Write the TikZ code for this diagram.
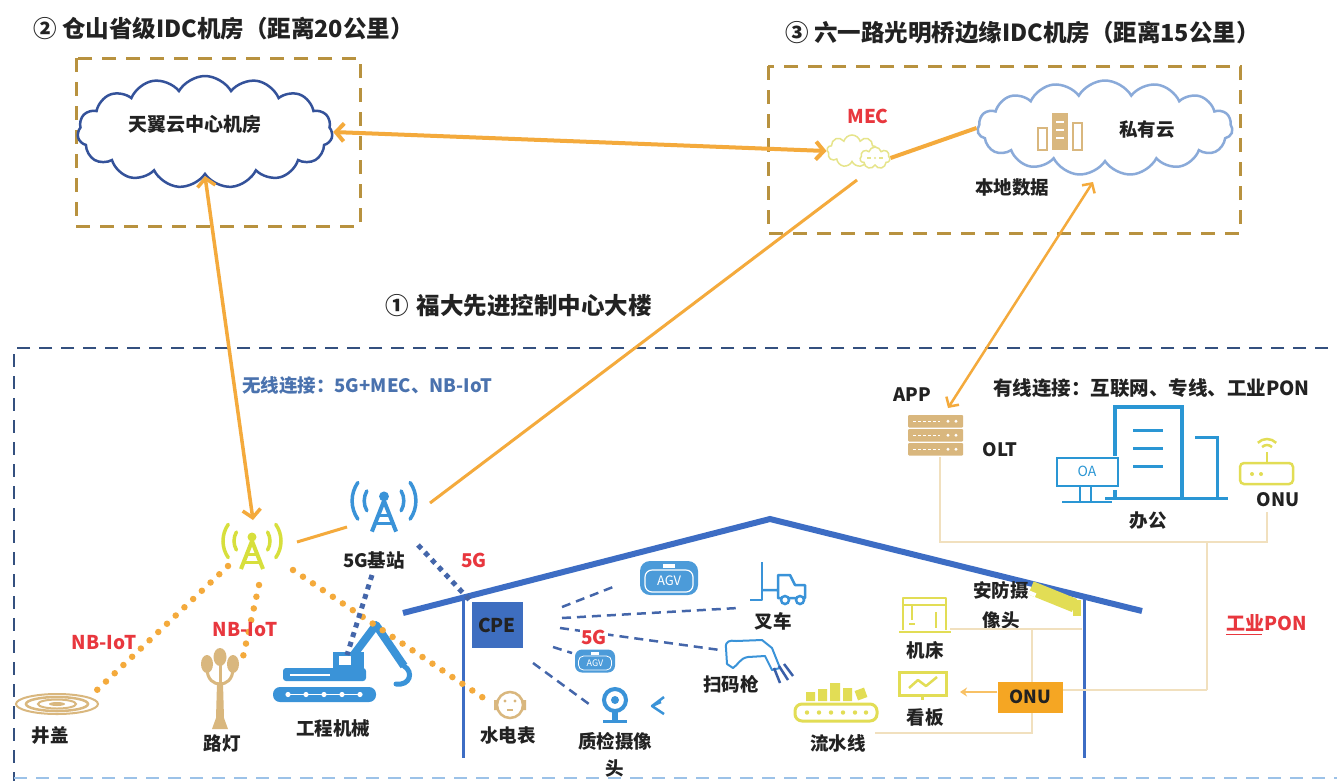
\documentclass[tikz,border=0pt]{standalone}
\usepackage{fontspec}
\setmainfont{Noto Sans CJK SC}
\usetikzlibrary{arrows.meta,shapes.symbols,calc}

\definecolor{linkorange}{HTML}{F4AA3C}
\definecolor{idcbrown}{HTML}{B8923F}
\definecolor{campusblue}{HTML}{34507F}
\definecolor{campuslight}{HTML}{9CC2E8}
\definecolor{cloudnavy}{HTML}{34529A}
\definecolor{cloudsky}{HTML}{8AAAD9}
\definecolor{iconblue}{HTML}{3A93D8}
\definecolor{officeblue}{HTML}{2A96D4}
\definecolor{roofblue}{HTML}{3D6DC4}
\definecolor{icontan}{HTML}{D9B77E}
\definecolor{iconyellow}{HTML}{E2DD55}
\definecolor{nbgreen}{HTML}{D7DF3C}
\definecolor{mecyellow}{HTML}{E6E48A}
\definecolor{alertred}{HTML}{E8373E}
\definecolor{ponline}{HTML}{F1E0BE}
\definecolor{cpeblue}{HTML}{3E6EC0}
\definecolor{onuorange}{HTML}{F5A623}
\definecolor{textdark}{HTML}{222222}
\definecolor{wirelessblue}{HTML}{4A72AE}
\definecolor{dashblue}{HTML}{4466AA}
\definecolor{agvblue}{HTML}{4C9BD9}
\definecolor{scannerdark}{HTML}{3A5FA8}

\tikzset{
  titletext/.style={anchor=west, inner sep=0, text=textdark, font=\bfseries\fontsize{23.5}{27}\selectfont},
  lbl/.style={inner sep=0, text=textdark, font=\bfseries\fontsize{18.5}{21}\selectfont},
  redlbl/.style={lbl, text=alertred, font=\bfseries\fontsize{19}{21}\selectfont},
  idcbox/.style={draw=idcbrown, line width=3, dash pattern=on 14pt off 10pt},
  campusline/.style={line width=2.5, dash pattern=on 13pt off 9pt},
  link/.style={draw=linkorange, line width=4},
  biarrow/.style={link, {Straight Barb[length=8pt,width=18pt]}-{Straight Barb[length=8pt,width=18pt]}},
  nbdots/.style={draw=linkorange, line width=6.5, dash pattern=on 0pt off 12pt, line cap=round},
  fivegdots/.style={draw=dashblue, line width=5, dash pattern=on 5pt off 5pt},
  cpedash/.style={draw=dashblue, line width=2.5, dash pattern=on 9pt off 6pt},
  ponwire/.style={draw=ponline, line width=2},
  tower/.pic={
    \fill (0,-16) circle (4.5);
    \draw[line width=4, line join=round] (-11,16) -- (0,-12) -- (11,16);
    \draw[line width=3] (-6,1) -- (6,1) (-8.5,9) -- (8.5,9);
    \draw[line width=3.5, line cap=round]
      ([shift={(150:18)}]0,-12) arc (150:210:18)
      ([shift={(30:18)}]0,-12) arc (30:-30:18)
      ([shift={(145:29)}]0,-12) arc (145:215:29)
      ([shift={(35:29)}]0,-12) arc (35:-35:29);
  },
}

\begin{document}
\begin{tikzpicture}[x=1pt,y=-1pt]
\useasboundingbox (0,0) rectangle (1337,780);
\fill[white] (0,0) rectangle (1337,780);

% ---------- titles ----------
\node[titletext] (title2) at (33,29) {② 仓山省级IDC机房（距离20公里）};
\node[titletext] (title3) at (785,33) {③ 六一路光明桥边缘IDC机房（距离15公里）};
\node[titletext] (title1) at (385,306) {①\hspace{8pt}福大先进控制中心大楼};

% ---------- IDC rooms ----------
\draw[idcbox] (76,58) rectangle (360,226);
\draw[idcbox] (768,66) rectangle (1240,233);

\node[cloud, cloud puffs=15, cloud puff arc=120, draw=cloudnavy, line width=2.5,
      minimum width=255, minimum height=112, inner sep=0] (tycloud) at (205,132) {};
\node[lbl, font=\bfseries\fontsize{19}{21}\selectfont] (tytext) at (195,124) {天翼云中心机房};

\node[cloud, cloud puffs=15, cloud puff arc=120, draw=cloudsky, line width=2.5,
      minimum width=255, minimum height=95, inner sep=0] (pvcloud) at (1105,128) {};
% local data servers
\draw[icontan, line width=1.5] (1038,128) rectangle (1047,150) (1073,123) rectangle (1082,150);
\fill[icontan] (1052,113) rectangle (1068,150);
\draw[white, line width=1.5] (1056,122) -- (1064,122) (1056,130) -- (1064,130) (1056,138) -- (1064,138);
\node[lbl] (pvtext) at (1147,130) {私有云};
\node[lbl] (localdata) at (1012,188) {本地数据};

% MEC
\node[redlbl] (meclabel) at (868,116) {MEC};
\node[cloud, cloud puffs=9, draw=mecyellow, line width=1.5, minimum width=50, minimum height=32, inner sep=0] (mec) at (852,151) {};
\node[cloud, cloud puffs=7, draw=mecyellow, fill=white, line width=1.5, minimum width=30, minimum height=22, inner sep=0] (mecsub) at (875,158) {};
\draw[mecyellow, line width=1.2] (867,158) -- (871,158) (879,158) -- (883,158);
\fill[mecyellow] (875,158) circle (1.2);

% ---------- campus ----------
\draw[campusline, draw=campusblue] (1350,348) -- (14,348) -- (14,790);
\draw[campusline, draw=campuslight] (14,778) -- (1350,778);

\node[anchor=west, inner sep=0, text=wirelessblue, font=\bfseries\fontsize{18.5}{21}\selectfont] (wireless) at (242,386) {无线连接：5G+MEC、NB-IoT};
\node[anchor=west, inner sep=0, text=textdark, font=\bfseries\fontsize{19.5}{22}\selectfont] (wired) at (993,388) {有线连接：互联网、专线、工业PON};

% towers
\pic[color=nbgreen] at (252,553) {tower};
\pic[color=iconblue, scale=1.1] at (384,514) {tower};
\node[lbl] (gblabel) at (374,560) {5G基站};
\node[redlbl] (fiveg1) at (474,560) {5G};

\coordinate (nbtop) at (253,520);
\coordinate (nbright) at (297,542);
\coordinate (gbleft) at (347,527);
\coordinate (gbtop) at (430,503);
\coordinate (mecfoot) at (857,180);
\coordinate (pvfoot) at (1093,182);
\coordinate (appin) at (948,408);

% house
\draw[roofblue, line width=6, line join=miter] (403,613) -- (770,519) -- (1142,611);
\draw[roofblue, line width=3] (463,598) -- (463,758) (1084,596) -- (1084,758);

% excavator
\fill[iconblue, rounded corners=7] (273,687) rectangle (376,702);
\draw[white, line width=1] (288,694.5) -- (360,694.5);
\foreach \xx in {288,306,324,342,360} \fill[white] (\xx,694.5) circle (2.6);
\fill[iconblue, rounded corners=3] (283,668) rectangle (366,681);
\draw[white, line width=1.2] (290,675) -- (330,675);
\fill[iconblue] (333,652) rectangle (364,670);
\fill[white] (339,656) rectangle (351,665);
\draw[iconblue, line width=8, line join=round] (352,657) -- (376,625) -- (404,666);
\draw[iconblue, line width=5, line cap=round] (404,666) .. controls (414,672) and (410,686) .. (396,684);
\node[lbl] (excavator) at (333,728) {工程机械};

% street lamp
\fill[icontan] (217,683) -- (223,683) -- (224,718) -- (228,729) -- (212,729) -- (216,718) -- cycle;
\draw[icontan, line width=3] (220,662) -- (220,686);
\draw[icontan, line width=3] (207,668) .. controls (207,680) and (214,684) .. (220,684);
\draw[icontan, line width=3] (233,668) .. controls (233,680) and (226,684) .. (220,684);
\fill[icontan] (207,664) ellipse (6 and 9) (220,657) ellipse (6.5 and 9) (233,664) ellipse (6 and 9);
\node[lbl] (lamp) at (222,743) {路灯};

% manhole cover
\draw[icontan, line width=2] (57,704) ellipse (41 and 10);
\draw[icontan, line width=2.5] (57,704) ellipse (31 and 7);
\draw[icontan, line width=2] (57,704) ellipse (19 and 4.5);
\fill[icontan] (57,704) ellipse (8 and 2);
\node[lbl] (manhole) at (50,735) {井盖};

% meter
\draw[icontan, line width=2.5] (510,705) circle (13);
\fill[icontan] (494,700) rectangle (497,710) (523,700) rectangle (526,710);
\fill[icontan] (505,701) circle (1.6) (515,701) circle (1.6);
\draw[icontan, line width=1.5] (507,710) -- (513,710);
\node[lbl] (meter) at (508,735) {水电表};

\coordinate (nbleft) at (228,566);
\coordinate (mhtop) at (97,690);
\coordinate (nbbot) at (259,585);
\coordinate (lamptop) at (243,657);
\coordinate (nbdiag) at (293,570);
\coordinate (metertop) at (491,703);
\coordinate (gbbot) at (372,575);
\coordinate (excab) at (347,655);
\coordinate (gbdiag) at (418,545);

% wireless links
\draw[biarrow] (tycloud.east) -- (mec.west);
\draw[link] (mecsub.east) -- (pvcloud.west);
\draw[biarrow, line width=3.5] (tycloud.south) -- (nbtop);
\draw[link, line width=3] (gbtop) -- (mecfoot);
\draw[link, line width=3] (nbright) -- (gbleft);
\draw[link, line width=2.5, {Straight Barb[length=7pt,width=15pt]}-{Straight Barb[length=7pt,width=15pt]}] (pvfoot) -- (appin);

\draw[nbdots] (nbleft) -- (mhtop);
\draw[nbdots] (nbbot) -- (lamptop);
\draw[nbdots] (nbdiag) -- (metertop);
\draw[fivegdots] (gbbot) -- (excab);

\node[redlbl] (nbiot1) at (104,643) {NB-IoT};
\node[redlbl] (nbiot2) at (245,630) {NB-IoT};

% CPE and its 5G clients
\node[fill=cpeblue, minimum width=51, minimum height=46, inner sep=0, text=textdark,
      font=\bfseries\fontsize{19}{21}\selectfont] (cpe) at (497,625) {CPE};
\draw[fivegdots] (gbdiag) -- (cpe.north west);

\coordinate (cpea) at (562,607);  \coordinate (agvend) at (613,587);
\coordinate (cpeb) at (562,618);  \coordinate (forkend) at (738,608);
\coordinate (cpec) at (560,628);  \coordinate (scanend) at (720,650);
\coordinate (cped) at (553,647);  \coordinate (agvtwoend) at (572,653);
\coordinate (cpee) at (533,663);  \coordinate (camend) at (593,707);
\draw[cpedash] (cpea) -- (agvend);
\draw[cpedash] (cpeb) -- (forkend);
\draw[cpedash] (cpec) -- (scanend);
\draw[cpedash] (cped) -- (agvtwoend);
\draw[cpedash] (cpee) -- (camend);
\node[redlbl, fill=white, inner sep=1] (fiveg2) at (594,637) {5G};

% AGV badges
\node[fill=agvblue, rounded corners=10, minimum width=58, minimum height=34, inner sep=0] (agvone) at (669,578) {};
\node[draw=white, line width=1.2, rounded corners=7, minimum width=48, minimum height=22, inner sep=0,
      text=white, font=\fontsize{13}{14}\selectfont] (agvonetext) at (669,581) {AGV};
\fill[white] (663,564) rectangle (675,568);
\node[fill=agvblue, rounded corners=7, minimum width=40, minimum height=23, inner sep=0] (agvtwo) at (595,661) {};
\node[draw=white, line width=0.8, rounded corners=5, minimum width=33, minimum height=14, inner sep=0,
      text=white, font=\fontsize{9}{10}\selectfont] (agvtwotext) at (595,663) {AGV};
\fill[white] (591,652) rectangle (599,655);

% forklift
\draw[iconblue, line width=2.5, line join=round] (762,562) -- (762,600) -- (750,600);
\draw[iconblue, line width=2.5, line join=round] (762,590) -- (778,590)
   (778,598) -- (778,575) -- (790,575) -- (795,585) -- (805,585) -- (805,598) -- cycle;
\draw[iconblue, line width=2.5, fill=white] (785,600) circle (4) (800,600) circle (4);
\node[lbl] (forklift) at (773,621) {叉车};

% scanner
\draw[iconblue, line width=2, line join=round] (726,648) .. controls (725,641) and (730,640) .. (736,641)
   -- (762,640) -- (772,648) -- (780,668) -- (772,670) -- (765,656) -- (748,657)
   .. controls (740,658) and (738,665) .. (733,668) -- (727,664) -- cycle;
\draw[scannerdark, line width=2.5] (774,668) -- (780,683) (779,666) -- (788,680) (784,664) -- (793,676);
\node[lbl] (scanner) at (731,684) {扫码枪};

% inspection camera
\draw[iconblue, line width=4] (615,700) circle (11);
\fill[iconblue] (615,700) circle (4);
\fill[iconblue] (612,711) rectangle (618,720);
\draw[iconblue, line width=3] (603,721) -- (627,721);
\draw[iconblue, line width=2.5, line join=round] (664,697) -- (652,706) -- (664,714) (661,702) -- (652,706);
\node[lbl] (qccam) at (615,741) {质检摄像};
\node[lbl] (qccamb) at (615,768) {头};

% conveyor
\draw[iconyellow, line width=3, rounded corners=7] (795,704) rectangle (877,721);
\foreach \xx in {807,819,831,843,855,866} \fill[iconyellow] (\xx,712.5) circle (2.2);
\fill[iconyellow] (806,692) rectangle (815,701) (818,689) rectangle (827,701)
   (830,683) rectangle (840,701) (843,688) rectangle (852,701);
\fill[iconyellow, rotate around={20:(861,694)}] (856,689) rectangle (866,699);
\node[lbl] (conveyor) at (838,743) {流水线};

% machine tool
\draw[iconyellow, line width=2.5] (899,632) -- (951,632);
\draw[iconyellow, line width=2.5, line join=round] (903,630) -- (903,598) -- (946,598) -- (946,630);
\draw[iconyellow, line width=2] (903,605) -- (946,605) (912,605) -- (912,620) (909,624) -- (915,624)
   (936,612) -- (936,628);
\node[lbl] (machine) at (925,650) {机床};

% dashboard
\draw[iconyellow, line width=3] (899,672) rectangle (946,695);
\draw[iconyellow, line width=2.5, line join=round] (909,688) -- (918,680) -- (926,686) -- (937,677);
\draw[iconyellow, line width=3] (922,695) -- (922,700);
\node[lbl] (board) at (925,718) {看板};

% security camera
\begin{scope}[shift={(1056,598)}, rotate=-22]
  \fill[iconyellow] (-27,-7) rectangle (20,7);
  \fill[white] (-27,3) rectangle (-20,7);
\end{scope}
\fill[iconyellow] (1073,600) rectangle (1081,616);
\node[lbl] (seccam) at (1001,590) {安防摄};
\node[lbl] (seccamb) at (1001,620) {像头};

% wired side: OLT server, office, ONU
\foreach \yy in {415,429,443} {
  \fill[icontan, rounded corners=1] (908,\yy) rectangle (963,\yy+12.5);
  \fill[white] (948,\yy+6.2) circle (1.6) (956,\yy+6.2) circle (1.6);
  \draw[white, line width=1, dash pattern=on 3pt off 2pt] (913,\yy+6.2) -- (940,\yy+6.2);
}
\node[lbl] (app) at (912,395) {APP};
\node[lbl] (olt) at (1000,450) {OLT};

\draw[officeblue, line width=3.5] (1115,498) -- (1115,407) -- (1182,407) -- (1182,498);
\draw[officeblue, line width=3] (1133,430) -- (1163,430) (1133,448) -- (1163,448) (1133,466) -- (1163,466);
\draw[officeblue, line width=3] (1195,437) -- (1217,437) -- (1217,498);
\draw[officeblue, line width=3] (1105,498) -- (1228,498);
\fill[white] (1055,456) rectangle (1120,490);
\draw[officeblue, line width=2.5] (1057,458) rectangle (1118,486);
\node[text=officeblue, font=\fontsize{14}{16}\selectfont, inner sep=0] (oa) at (1087,471) {OA};
\draw[officeblue, line width=2.5] (1080,486) -- (1080,502) (1091,486) -- (1091,502) (1062,502) -- (1112,502);
\node[lbl] (office) at (1148,521) {办公};

\draw[iconyellow, line width=2.5, rounded corners=4] (1240,463) rectangle (1293,484);
\fill[iconyellow] (1252,474) circle (2) (1261,474) circle (2);
\draw[iconyellow, line width=2.5] (1267,463) -- (1267,452);
\draw[iconyellow, line width=2.5] ([shift={(225:7)}]1267,452) arc (225:315:7);
\draw[iconyellow, line width=2.5] ([shift={(225:13)}]1267,452) arc (225:315:13);
\node[lbl] (onu) at (1278,500) {ONU};

% PON wiring
\coordinate (srvfoot) at (940,457);
\coordinate (busleft) at (940,542);
\coordinate (busright) at (1267,542);
\coordinate (onufoot) at (1267,512);
\coordinate (drop) at (1207,542);
\coordinate (dropbot) at (1207,690);
\coordinate (machright) at (950,629);
\coordinate (camleft) at (1082,629);
\coordinate (branch) at (1032,629);
\coordinate (branchbot) at (1032,733);
\coordinate (convright) at (875,733);
\draw[ponwire] (srvfoot) -- (busleft) -- (busright) -- (onufoot);
\draw[ponwire] (drop) -- (dropbot);
\draw[ponwire] (machright) -- (camleft);
\draw[ponwire] (branch) -- (branchbot) -- (convright);

\node[fill=onuorange, minimum width=65, minimum height=31, inner sep=0, text=textdark,
      font=\bfseries\fontsize{18}{20}\selectfont] (onubox) at (1030,697) {ONU};
\draw[ponwire] (dropbot) -- (onubox.east |- dropbot);
\coordinate (boardright) at (960,692);
\draw[onuorange!70, line width=2.5, -{Stealth[length=7pt,width=9pt]}] (onubox.west |- boardright) -- (boardright);

\node[redlbl] (ponred) at (1267,623) {工业PON};
\draw[alertred, line width=1] (1226,634) -- (1262,634);

\end{tikzpicture}
\end{document}
